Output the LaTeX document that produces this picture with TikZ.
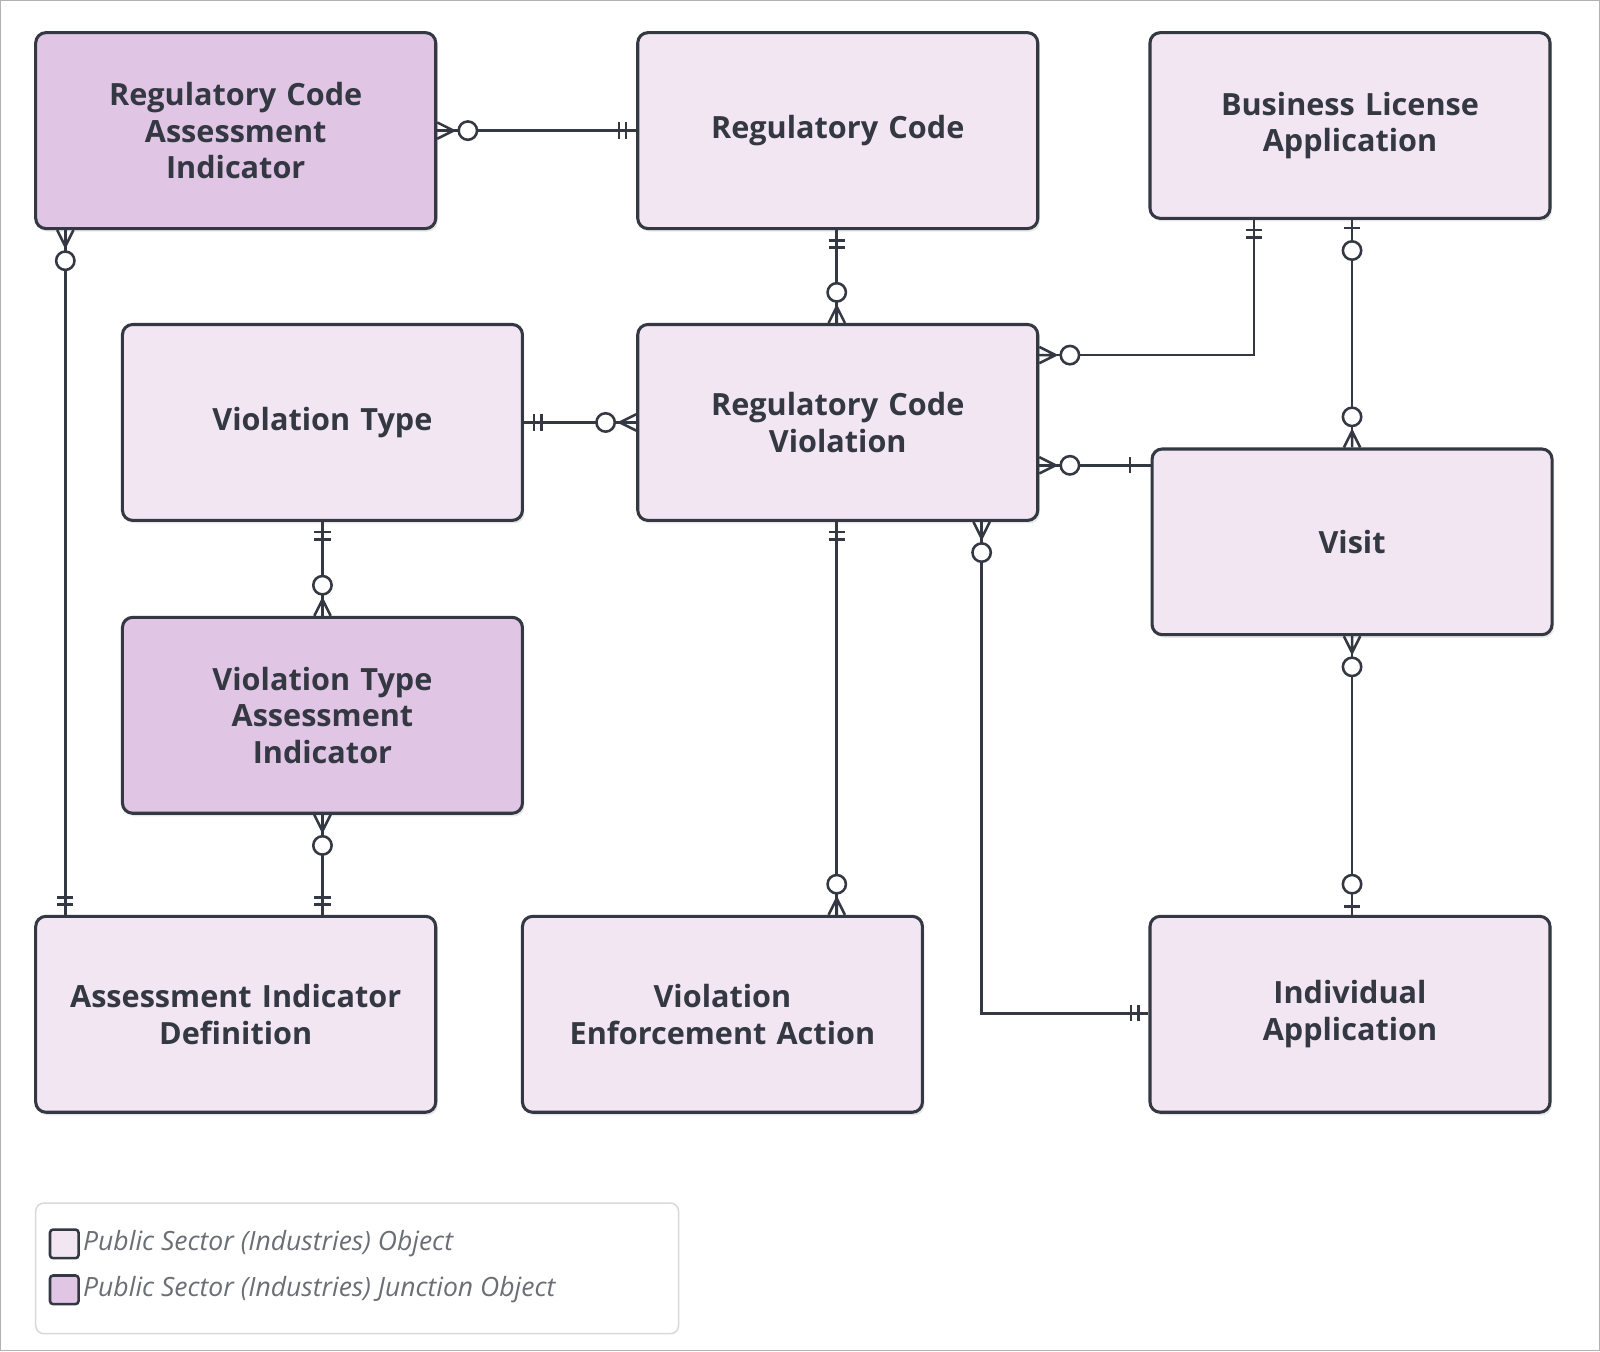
\documentclass[tikz,border=0pt]{standalone}
\usepackage{fontspec}
\setmainfont{Open Sans}
\usetikzlibrary{shadows}
\definecolor{lt}{HTML}{F2E6F3}
\definecolor{dk}{HTML}{E0C6E4}
\definecolor{st}{HTML}{333842}
\definecolor{lg}{HTML}{6B6E75}
\begin{document}
\begin{tikzpicture}[x=1pt,y=-1pt,
  box/.style={draw=st,line width=3pt,rounded corners=10pt,fill=lt,minimum width=392pt,minimum height=192pt,align=center,text width=380pt,font=\fontsize{30}{36}\selectfont\bfseries,text=st,drop shadow={opacity=0.18,shadow xshift=2pt,shadow yshift=-3pt}},
  jbox/.style={box,fill=dk},
  conn/.style={draw=st,line width=2.5pt},
  zm/.pic={\draw[conn] (0,8)--(16,0)--(0,-8) (0,0)--(16,0); \draw[conn,fill=white] (30,0) circle (9);},
  om/.pic={\draw[conn] (10,8)--(10,-8) (17,8)--(17,-8);},
  zo/.pic={\draw[conn] (8,8)--(8,-8); \draw[conn,fill=white] (30,0) circle (9);},
  oo/.pic={\draw[conn] (20,8)--(20,-8);}
]
\useasboundingbox (0,0) rectangle (1568,1324);
\draw[gray!60,line width=1pt] (0.5,0.5) rectangle (1567.5,1323.5);
\node[jbox] (RCAI) at (231,128) {Regulatory Code\\Assessment\\Indicator};
\node[box] (RC) at (821,128) {Regulatory Code};
\node[box,minimum height=182pt] (BLA) at (1323,123) {Business License\\Application};
\node[box] (VT) at (316,414) {Violation Type};
\node[box] (RCV) at (821,414) {Regulatory Code\\Violation};
\node[box,minimum height=182pt] (VIS) at (1325,531) {Visit};
\node[jbox] (VTAI) at (316,701) {Violation Type\\Assessment\\Indicator};
\node[box] (AID) at (231,994) {Assessment Indicator\\Definition};
\node[box] (VEA) at (708,994) {Violation\\Enforcement Action};
\node[box] (IA) at (1323,994) {Individual\\Application};
\path (64,0) coordinate (x64) (316,0) coordinate (x316) (820,0) coordinate (x820)
 (962,0) coordinate (x962) (1229,0) coordinate (x1229) (1325,0) coordinate (x1325)
 (0,348) coordinate (y348) (0,456) coordinate (y456) (0,993) coordinate (y993);
% 1
\draw[conn] (RCAI.east) -- (RC.west);
\pic at (RCAI.east) {zm}; \pic[rotate=180] at (RC.west) {om};
% 2
\draw[conn] (RCAI.south -| x64) -- (AID.north -| x64);
\pic[rotate=-90] at (RCAI.south -| x64) {zm}; \pic[rotate=90] at (AID.north -| x64) {om};
% 3
\draw[conn] (RC.south -| x820) -- (RCV.north -| x820);
\pic[rotate=-90] at (RC.south -| x820) {om}; \pic[rotate=90] at (RCV.north -| x820) {zm};
% 4
\draw[conn] (BLA.south -| x1229) -- (y348 -| x1229) -- (RCV.east |- y348);
\pic[rotate=-90] at (BLA.south -| x1229) {om}; \pic at (RCV.east |- y348) {zm};
% 5
\draw[conn] (BLA.south -| x1325) -- (VIS.north -| x1325);
\pic[rotate=-90] at (BLA.south -| x1325) {zo}; \pic[rotate=90] at (VIS.north -| x1325) {zm};
% 6
\draw[conn] (VT.east) -- (RCV.west);
\pic at (VT.east) {om}; \pic[rotate=180] at (RCV.west) {zm};
% 7
\draw[conn] (RCV.east |- y456) -- (VIS.west |- y456);
\pic at (RCV.east |- y456) {zm}; \pic[rotate=180] at (VIS.west |- y456) {oo};
% 8
\draw[conn] (VT.south) -- (VTAI.north);
\pic[rotate=-90] at (VT.south) {om}; \pic[rotate=90] at (VTAI.north) {zm};
% 9
\draw[conn] (VTAI.south) -- (AID.north -| x316);
\pic[rotate=-90] at (VTAI.south) {zm}; \pic[rotate=90] at (AID.north -| x316) {om};
% 10
\draw[conn] (RCV.south -| x820) -- (VEA.north -| x820);
\pic[rotate=-90] at (RCV.south -| x820) {om}; \pic[rotate=90] at (VEA.north -| x820) {zm};
% 11
\draw[conn] (RCV.south -| x962) -- (y993 -| x962) -- (IA.west |- y993);
\pic[rotate=-90] at (RCV.south -| x962) {zm}; \pic[rotate=180] at (IA.west |- y993) {om};
% 12
\draw[conn] (VIS.south -| x1325) -- (IA.north -| x1325);
\pic[rotate=-90] at (VIS.south -| x1325) {zm}; \pic[rotate=90] at (IA.north -| x1325) {zo};
% legend
\node[draw=gray!30,line width=1.5pt,rounded corners=8pt,minimum width=630pt,minimum height=128pt] (LEG) at (350,1243) {};
\node[draw=st,line width=2.5pt,fill=lt,rounded corners=3pt,minimum size=28pt] (L1) at (63,1219) {};
\node[draw=st,line width=2.5pt,fill=dk,rounded corners=3pt,minimum size=28pt] (L2) at (63,1264) {};
\node[anchor=west,text=lg,font=\fontsize{26}{30}\selectfont\itshape] (T1) at (78,1219) {Public Sector (Industries) Object};
\node[anchor=west,text=lg,font=\fontsize{26}{30}\selectfont\itshape] (T2) at (78,1264) {Public Sector (Industries) Junction Object};
\end{tikzpicture}
\end{document}
